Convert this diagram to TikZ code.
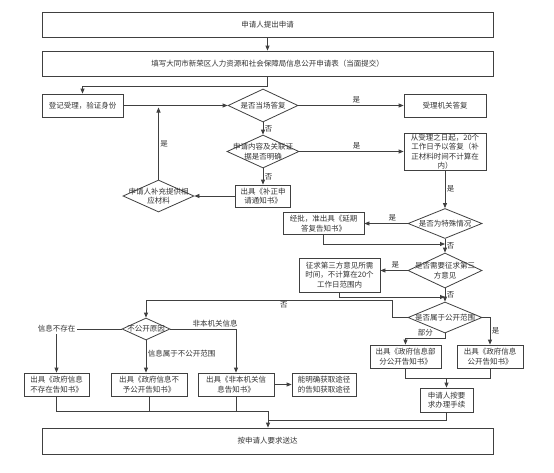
\documentclass[tikz,border=0pt]{standalone}
\usepackage{fontspec}
\setmainfont{Noto Sans CJK SC}
\usetikzlibrary{shapes,arrows,arrows.meta,positioning,calc}

\definecolor{linecol}{HTML}{404040}
\definecolor{txtcol}{HTML}{333333}

\tikzset{
  block/.style={draw=linecol, line width=0.8pt, rectangle, inner sep=0pt, align=center, text=txtcol, font=\fontsize{7.5}{9.5}\selectfont},
  decision/.style={draw=linecol, line width=0.8pt, diamond, inner sep=0pt},
  dtext/.style={align=center, text=txtcol, inner sep=0pt, font=\fontsize{7.5}{9.5}\selectfont},
  conn/.style={draw=linecol, line width=0.8pt},
  arr/.style={conn, -{Triangle[length=5pt,width=4pt]}},
  lbl/.style={text=txtcol, inner sep=1.5pt, font=\fontsize{7.5}{9}\selectfont},
}

\begin{document}
\begin{tikzpicture}[x=1pt, y=-1pt]

\useasboundingbox[fill=white] (0, 0) rectangle (554, 472);

% upper part
\node[block, minimum width=451, minimum height=25] (apply) at (267.5, 24.5) {申请人提出申请};
\node[block, minimum width=451, minimum height=25] (form) at (267.5, 63.5) {填写大同市新荣区人力资源和社会保障局信息公开申请表（当面提交）};
\node[block, minimum width=81, minimum height=23] (register) at (82.5, 105.5) {登记受理，验证身份};
\node[decision, minimum width=70, minimum height=33, label={[dtext]center:是否当场答复}] (onsite) at (263, 105.5) {};
\node[block, minimum width=82, minimum height=23] (reply) at (445, 105.5) {受理机关答复};
\node[decision, minimum width=72, minimum height=33, label={[dtext]center:申请内容及关联证\\据是否明确}] (clear) at (263, 151.5) {};
\node[block, minimum width=82, minimum height=37] (days) at (445, 151.5) {从受理之日起，20个\\工作日予以答复（补\\正材料时间不计算在\\内）};
\node[block, minimum width=55, minimum height=22] (correct) at (263, 196) {出具《补正申\\请通知书》};
\node[decision, minimum width=71, minimum height=32, label={[dtext]center:申请人补充提供相\\应材料}] (supply) at (158.5, 196) {};

% middle part
\node[decision, minimum width=74, minimum height=30, label={[dtext]center:是否为特殊情况}] (special) at (445, 223.5) {};
\node[block, minimum width=81, minimum height=22] (delay) at (323.5, 223.5) {经批，准出具《延期\\答复告知书》};
\node[decision, minimum width=74, minimum height=35, label={[dtext]center:是否需要征求第三\\方意见}] (third) at (445, 270.5) {};
\node[block, minimum width=81, minimum height=34] (consult) at (339.5, 275) {征求第三方意见所需\\时间，不计算在20个\\工作日范围内};
\node[decision, minimum width=74, minimum height=31, label={[dtext]center:是否属于公开范围}] (public) at (445, 317.5) {};
\node[decision, minimum width=48, minimum height=22, label={[dtext]center:不公开原因}] (reason) at (146, 329) {};
\node[lbl] (nolabel) at (56.5, 329) {信息不存在};

% lower part
\node[block, minimum width=71, minimum height=23] (partial) at (405.5, 356.5) {出具《政府信息部\\分公开告知书》};
\node[block, minimum width=66, minimum height=23] (full) at (490, 356.5) {出具《政府信息\\公开告知书》};
\node[block, minimum width=53, minimum height=24] (handle) at (446.5, 400) {申请人按要\\求办理手续};
\node[block, minimum width=65, minimum height=23] (notexist) at (56.5, 384.5) {出具《政府信息\\不存在告知书》};
\node[block, minimum width=76, minimum height=23] (withheld) at (149, 384.5) {出具《政府信息不\\予公开告知书》};
\node[block, minimum width=76, minimum height=23] (other) at (236, 384.5) {出具《非本机关信\\息告知书》};
\node[block, minimum width=64, minimum height=23] (route) at (324, 384.5) {能明确获取途径\\的告知获取途径};
\node[block, minimum width=451, minimum height=26] (deliver) at (267.5, 441) {按申请人要求送达};

\coordinate (m1) at (445, 244);
\coordinate (m2) at (445, 297);
\coordinate (c6) at (392, 300);
\coordinate (j1) at (268, 411);
\coordinate (j2) at (268, 420);
\coordinate (j3) at (446.5, 378);

\draw[arr] (apply) -- (form);
\draw[arr] (form.south) -- ++(0, 9.5) -| (register.north);
\draw[arr] (register.east) -- (onsite.west);
\draw[arr] (onsite.east) -- node[lbl, above, pos=0.55] {是} (reply.west);
\draw[arr] (onsite.south) -- node[lbl, right] {否} (clear.north);
\draw[arr] (clear.east) -- node[lbl, above, pos=0.55] {是} (days.west);
\draw[arr] (clear.south) -- node[lbl, right] {否} (correct.north);
\draw[arr] (correct.west) -- (supply.east);
\draw[arr] (supply.north) -- node[lbl, right] {是} ($ (supply.north |- register.east) + (0, 2) $);

\draw[arr] (days.south) -- node[lbl, right] {是} (special.north);
\draw[arr] (special.west) -- node[lbl, above, pos=0.35] {是} (delay.east);
\draw[arr] (delay.south) |- (m1);
\draw[arr] (special.south) -- node[lbl, right] {否} (third.north);
\draw[arr] (third.west) -- node[lbl, above, pos=0.45] {是} (third.west -| consult.east);
\draw[arr] (consult.south) |- (m2);
\draw[arr] (third.south) -- node[lbl, right] {否} (public.north);

\draw[arr] (public.west) -| (c6) -| node[lbl, below, pos=0.22] {否} (reason.north);
\draw[arr] (public.south) -- ++(0, 5) -| node[lbl, above, pos=0.25] {部分} (partial.north);
\draw[arr] (public.east) -| node[lbl, right, pos=0.75] {是} (full.north);

\draw[conn] (reason.west) -- (nolabel.east);
\draw[arr] (nolabel.south) -- (notexist.north);
\draw[arr] (reason.south) -- node[lbl, right, pos=0.42] {信息属于不公开范围} (reason.south |- withheld.north);
\draw[arr] (reason.east) -| node[lbl, above, pos=0.34] {非本机关信息} (other.north);
\draw[arr] (other.east) -- (route.west);

\draw[conn] (partial.south) |- (j3);
\draw[conn] (full.south) |- (j3);
\draw[arr] (j3) -- (handle.north);

\draw[conn] (notexist.south) |- (j1);
\draw[conn] (withheld.south) |- (j1);
\draw[conn] (other.south) |- (j1);
\draw[conn] (handle.south) |- (j2);
\draw[arr] (j1) -- (j1 |- deliver.north);

\end{tikzpicture}
\end{document}
